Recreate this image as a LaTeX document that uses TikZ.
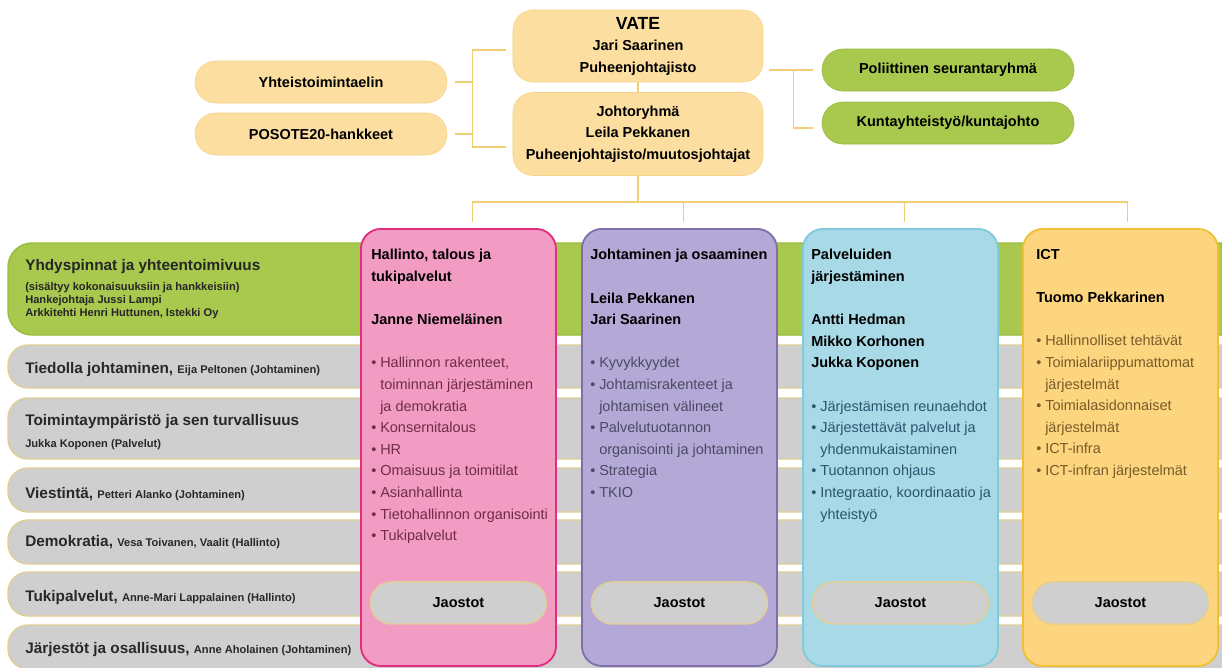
\documentclass[tikz,border=0pt]{standalone}
\usepackage{fontspec}
\setmainfont{Liberation Sans}
\usetikzlibrary{positioning, calc}

\definecolor{topfill}{RGB}{252,223,160}
\definecolor{topline}{RGB}{246,210,135}
\definecolor{linkcol}{RGB}{242,206,118}
\definecolor{greenfill}{RGB}{168,200,78}
\definecolor{greenline}{RGB}{152,188,64}
\definecolor{rowfill}{RGB}{207,207,207}
\definecolor{rowline}{RGB}{224,206,150}
\definecolor{rowtxt}{RGB}{40,40,40}
\definecolor{pinkfill}{RGB}{242,156,196}
\definecolor{pinkline}{RGB}{226,44,128}
\definecolor{pinktxt}{RGB}{112,44,74}
\definecolor{purpfill}{RGB}{180,168,214}
\definecolor{purpline}{RGB}{128,112,170}
\definecolor{purptxt}{RGB}{74,74,100}
\definecolor{bluefill}{RGB}{167,218,230}
\definecolor{blueline}{RGB}{128,202,220}
\definecolor{bluetxt}{RGB}{44,84,112}
\definecolor{orfill}{RGB}{253,213,126}
\definecolor{orline}{RGB}{240,192,52}
\definecolor{ortxt}{RGB}{120,92,42}

\newcommand{\itm}{\makebox[0.62em][l]{\textbullet}}
\newcommand{\ind}{\hspace*{0.62em}}
\newcommand{\colhead}[1]{{\color{black}\bfseries #1}}
\newcommand{\who}[1]{{\fontsize{7.9}{9}\selectfont #1}}

\begin{document}
\begin{tikzpicture}[x=0.025cm, y=-0.025cm,
  link/.style={draw=linkcol, line width=1.1pt},
  topbox/.style={draw=topline, fill=topfill, rounded corners=0.5cm, minimum width=6.25cm,
    align=center, font=\bfseries\fontsize{10.3}{15.3}\selectfont},
  pill/.style={draw=topline, fill=topfill, rounded corners=0.52cm, minimum width=6.3cm,
    minimum height=1.05cm, font=\bfseries\fontsize{10.3}{12}\selectfont},
  greenpill/.style={pill, draw=greenline, fill=greenfill},
  rowbox/.style={draw=rowline, fill=rowfill, line width=1pt, rounded corners=0.5cm},
  rowtext/.style={anchor=base west, inner sep=0pt, text=rowtxt, font=\bfseries\fontsize{10.9}{13}\selectfont},
  colbox/.style={rounded corners=0.5cm, line width=1.3pt, minimum width=4.875cm,
    minimum height=10.925cm, anchor=north west},
  coltext/.style={anchor=north west, inner sep=0pt, align=left, font=\fontsize{10.3}{15.37}\selectfont},
  jaos/.style={draw=rowline, fill=rowfill, line width=1pt, rounded corners=0.52cm, minimum width=4.4cm,
    minimum height=1.05cm, font=\bfseries\fontsize{10.3}{12}\selectfont}
]
\clip (0,0) rectangle (1222,667);

% top boxes
\node[topbox, minimum height=1.8cm] (vate) at (638,46)
  {{\fontsize{12.5}{15.3}\selectfont VATE}\\Jari Saarinen\\Puheenjohtajisto};
\node[topbox, minimum height=2.075cm] (johto) at (638,134)
  {Johtoryhmä\\Leila Pekkanen\\Puheenjohtajisto/muutosjohtajat};
\node[pill] (yht) at (321,82) {Yhteistoimintaelin};
\node[pill] (posote) at (321,134) {POSOTE20-hankkeet};
\node[greenpill] (poli) at (948,70) {Poliittinen seurantaryhmä};
\node[greenpill] (kunta) at (948,123) {Kuntayhteistyö/kuntajohto};

% brackets
\draw[link] ($(vate.west)+(-7,4)$) -| ($(johto.west)+(-40,13)$) -- ($(johto.west)+(-7,13)$);
\draw[link] ($(yht.east)+(8,0)$) -- ++(18,0);
\draw[link] ($(posote.east)+(8,0)$) -- ++(18,0);
\draw[link] ($(vate.east)+(6,24)$) -- ($(poli.west)+(-9,0)$);
\draw[link] ($(vate.east)+(30,24)$) |- ($(kunta.west)+(-9,5)$);
\draw[link] (vate.south) -- (johto.north);

% left rows
\draw[rowbox, draw=greenline, fill=greenfill, rounded corners=0.6cm] (8,243) rectangle (1260,335);
\foreach \t/\b in {345/388, 398/459, 468/512, 520/564, 572/616, 625/669}
  \draw[rowbox] (8,\t) rectangle (1260,\b);

\node[rowtext, text=black!85] (yhdy) at (25,270) {Yhdyspinnat ja yhteentoimivuus};
\foreach \nm/\y/\txt in {yhdy1/290/{(sisältyy kokonaisuuksiin ja hankkeisiin)},
    yhdy2/303/{Hankejohtaja Jussi Lampi}, yhdy3/316/{Arkkitehti Henri Huttunen, Istekki Oy}}
  \node[rowtext, text=black!85] (\nm) at (25,\y) {\who{\txt}};

\node[rowtext] (toim) at (25,425) {Toimintaympäristö ja sen turvallisuus};
\node[rowtext] (toimwho) at (25,447) {\who{Jukka Koponen (Palvelut)}};
\foreach \nm/\y/\rowhd/\rowps in {tied/373/{Tiedolla johtaminen,}/{Eija Peltonen (Johtaminen)},
    vies/498/{Viestintä,}/{Petteri Alanko (Johtaminen)},
    demo/546/{Demokratia,}/{Vesa Toivanen, Vaalit (Hallinto)},
    tuki/601/{Tukipalvelut,}/{Anne-Mari Lappalainen (Hallinto)},
    jarj/653/{Järjestöt ja osallisuus,}/{Anne Aholainen (Johtaminen)}}
  \node[rowtext] (\nm) at (25,\y) {\rowhd\ \who{\rowps}};

% columns
\node[colbox, fill=pinkfill, draw=pinkline] (hall) at (360,228) {};
\node[colbox, fill=purpfill, draw=purpline] (joht) at (581,228) {};
\node[colbox, fill=bluefill, draw=blueline] (palv) at (802,228) {};
\node[colbox, fill=orfill, draw=orline] (ict) at (1022,228) {};

\node[coltext, text=pinktxt] (halltxt) at ($(hall.north west)+(11,21)$) {%
  \colhead{Hallinto, talous ja}\\
  \colhead{tukipalvelut}\\[15.37pt]
  \colhead{Janne Niemeläinen}\\[15.37pt]
  \itm Hallinnon rakenteet,\\
  \ind toiminnan järjestäminen\\
  \ind ja demokratia\\
  \itm Konsernitalous\\
  \itm HR\\
  \itm Omaisuus ja toimitilat\\
  \itm Asianhallinta\\
  \itm Tietohallinnon organisointi\\
  \itm Tukipalvelut};
\node[coltext, text=purptxt] (johttxt) at ($(joht.north west)+(9,21)$) {%
  \colhead{Johtaminen ja osaaminen}\\[15.37pt]
  \colhead{Leila Pekkanen}\\
  \colhead{Jari Saarinen}\\[15.37pt]
  \itm Kyvykkyydet\\
  \itm Johtamisrakenteet ja\\
  \ind johtamisen välineet\\
  \itm Palvelutuotannon\\
  \ind organisointi ja johtaminen\\
  \itm Strategia\\
  \itm TKIO};
\node[coltext, text=bluetxt] (palvtxt) at ($(palv.north west)+(9,21)$) {%
  \colhead{Palveluiden}\\
  \colhead{järjestäminen}\\[15.37pt]
  \colhead{Antti Hedman}\\
  \colhead{Mikko Korhonen}\\
  \colhead{Jukka Koponen}\\[15.37pt]
  \itm Järjestämisen reunaehdot\\
  \itm Järjestettävät palvelut ja\\
  \ind yhdenmukaistaminen\\
  \itm Tuotannon ohjaus\\
  \itm Integraatio, koordinaatio ja\\
  \ind yhteistyö};
\node[coltext, text=ortxt] (icttxt) at ($(ict.north west)+(14,21)$) {%
  \colhead{ICT}\\[15.37pt]
  \colhead{Tuomo Pekkarinen}\\[15.37pt]
  \itm Hallinnolliset tehtävät\\
  \itm Toimialariippumattomat\\
  \ind järjestelmät\\
  \itm Toimialasidonnaiset\\
  \ind järjestelmät\\
  \itm ICT-infra\\
  \itm ICT-infran järjestelmät};

\foreach \c in {hall,joht,palv,ict}
  \node[jaos] (\c-jaos) at ($(\c.south)+(0,-64)$) {Jaostot};

% tree to columns
\draw[link] (johto.south) -- ++(0,27);
\draw[link] ($(hall.north)+(14,-6)$) |- ($(ict.north)+(7,-26)$) -- ($(ict.north)+(7,-6)$);
\foreach \c in {joht,palv}
  \draw[link] ($(\c.north)+(4,-6)$) -- ++(0,-20);
\end{tikzpicture}
\end{document}
